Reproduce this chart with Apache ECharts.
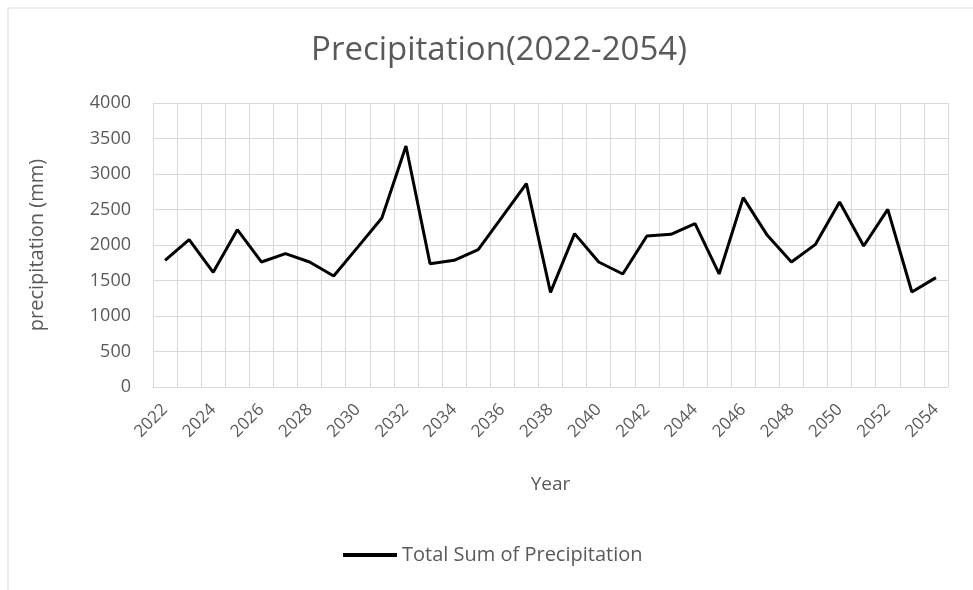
<!DOCTYPE html>
<html>
<head>
<meta charset="utf-8">
<script src="https://cdn.jsdelivr.net/npm/echarts@6/dist/echarts.min.js"></script>
<style>
html,body{margin:0;padding:0;background:#fff;}
#chart{width:973px;height:590px;}
</style>
</head>
<body>
<div id="chart"></div>
<script>
const years = ['2022','2023','2024','2025','2026','2027','2028','2029','2030','2031','2032','2033','2034','2035','2036','2037','2038','2039','2040','2041','2042','2043','2044','2045','2046','2047','2048','2049','2050','2051','2052','2053','2054'];
const precipitation = [1784,2075,1615,2216,1761,1878,1761,1563,1970,2380,3394,1737,1784,1934,2400,2864,1333,2160,1761,1592,2127,2150,2300,1592,2667,2136,1761,2009,2606,1986,2502,1338,1540];
const yTicks = [0,500,1000,1500,2000,2500,3000,3500,4000];

const FONT = '"Open Sans"';
const TXT = '#595959';
const chart = echarts.init(document.getElementById('chart'));
chart.setOption({
  animation: false,
  backgroundColor: '#fff',
  graphic: [{
    type: 'rect', shape: {x: 8, y: 8, width: 990, height: 600},
    style: {fill: 'none', stroke: '#d9d9d9', lineWidth: 1}, silent: true, z: -10
  }],
  title: {
    text: 'Precipitation(2022-2054)', left: 494, textAlign: 'center', top: 29,
    textStyle: {fontFamily: FONT, fontSize: 33, fontWeight: 'normal', color: TXT}
  },
  legend: {
    top: 540, left: 338,
    itemWidth: 54, itemHeight: 4, itemGap: 6,
    icon: 'rect',
    textStyle: {fontFamily: FONT, fontSize: 20, color: TXT},
    data: [{name: 'Total Sum of Precipitation', icon: 'rect'}]
  },
  grid: {left: 153, right: 25, top: 103, bottom: 203, containLabel: false},
  xAxis: {
    type: 'category', data: years, boundaryGap: true,
    name: 'Year', nameLocation: 'middle', nameGap: 88,
    nameTextStyle: {fontFamily: FONT, fontSize: 19, color: TXT},
    axisLine: {lineStyle: {color: '#d9d9d9', width: 1}},
    axisTick: {show: false},
    axisLabel: {interval: 1, rotate: 45, fontFamily: FONT, fontSize: 17, color: TXT, margin: 20},
    splitLine: {show: true, interval: 0, lineStyle: {color: '#d9d9d9', width: 1}}
  },
  yAxis: {
    type: 'value', min: 0, max: 4000, interval: 500,
    name: 'precipitation (mm)', nameLocation: 'middle', nameGap: 106,
    nameTextStyle: {fontFamily: FONT, fontSize: 20, color: TXT},
    axisLine: {show: false}, axisTick: {show: false},
    axisLabel: {fontFamily: FONT, fontSize: 18, color: TXT, margin: 22,
      formatter: v => yTicks.includes(v) ? String(v) : ''},
    splitLine: {lineStyle: {color: '#d9d9d9', width: 1}}
  },
  series: [{
    name: 'Total Sum of Precipitation', type: 'line', data: precipitation,
    symbol: 'none', lineStyle: {color: '#000', width: 3}, itemStyle: {color: '#000'}
  }]
});
</script>
</body>
</html>
